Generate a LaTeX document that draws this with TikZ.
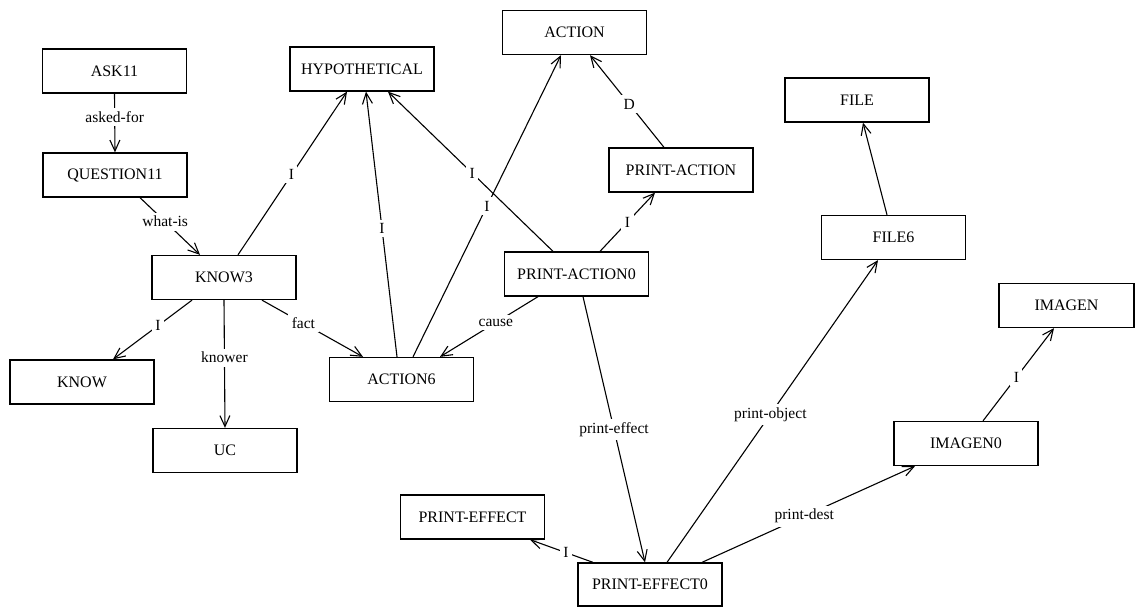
\documentclass[tikz,border=0pt]{standalone}
\usepackage{fontspec}
\setmainfont{Liberation Serif}
\usetikzlibrary{arrows.meta}
\begin{document}
\begin{tikzpicture}[x=1pt,y=-1pt,
  concept/.style={draw, line width=1.3pt, minimum width=144pt, minimum height=44pt,
    inner sep=0pt, font=\fontsize{16}{18}\selectfont},
  link/.style={line width=1.1pt,
    -{Straight Barb[length=11pt,width=10pt,line width=1.1pt]}},
  lbl/.style={fill=white, inner sep=3.5pt, font=\fontsize{15.5}{17}\selectfont}]
\useasboundingbox (0,0) rectangle (1135,607);

% concepts
\node[concept] (ask)     at (114.5,71)   {ASK11};
\node[concept] (q11)     at (115,175)    {QUESTION11};
\node[concept] (hyp)     at (362,69)     {HYPOTHETICAL};
\node[concept] (action)  at (574.5,32.5) {ACTION};
\node[concept] (paction) at (681,170)    {PRINT-ACTION};
\node[concept] (file)    at (857,100)    {FILE};
\node[concept] (file6)   at (893.5,237.5){FILE6};
\node[concept] (know3)   at (224,277.5)  {KNOW3};
\node[concept] (pa0)     at (576.5,274)  {PRINT-ACTION0};
\node[concept] (know)    at (82,382)     {KNOW};
\node[concept] (action6) at (401.5,379.5){ACTION6};
\node[concept] (uc)      at (225,450.5)  {UC};
\node[concept, minimum width=135pt] (imagen) at (1066.5,305.5) {IMAGEN};
\node[concept] (imagen0) at (966,443.5)  {IMAGEN0};
\node[concept] (peff)    at (472.5,517)  {PRINT-EFFECT};
\node[concept, minimum height=43pt] (peff0) at (650,584.5) {PRINT-EFFECT0};

% relations
\draw[link] (ask.south) -- node[lbl,pos=0.4]{asked-for} (q11.north);
\draw[link] ([xshift=25]q11.south) -- node[lbl,pos=0.42]{what-is} ([xshift=-24]know3.north);
\draw[link] ([xshift=14]know3.north) -- node[lbl,pos=0.49]{I} ([xshift=-15]hyp.south);
\draw[link] ([xshift=-4.5]action6.north) -- node[lbl,pos=0.485]{I} ([xshift=4]hyp.south);
\draw[link] ([xshift=-23.5]pa0.north) -- node[lbl,pos=0.49]{I} ([xshift=26]hyp.south);
\draw[link] ([xshift=11.5]action6.north) -- node[lbl,pos=0.5]{I} ([xshift=-13.5]action.south);
\draw[link] ([xshift=-17]paction.north) -- node[lbl,pos=0.47]{D} ([xshift=15.5]action.south);
\draw[link] ([xshift=23.5]pa0.north) -- node[lbl,pos=0.5]{I} ([xshift=-26]paction.south);
\draw[link] ([xshift=-32]know3.south) -- node[lbl,pos=0.43]{I} ([xshift=31]know.north);
\draw[link] (know3.south) -- node[lbl,pos=0.45]{knower} (uc.north);
\draw[link] ([xshift=38]know3.south) -- node[lbl,pos=0.41]{fact} ([xshift=-38.5]action6.north);
\draw[link] ([xshift=-38.5]pa0.south) -- node[lbl,pos=0.43]{cause} ([xshift=38.5]action6.north);
\draw[link] ([xshift=6.5]pa0.south) -- node[lbl,pos=0.5]{print-effect} ([xshift=-5]peff0.north);
\draw[link] ([xshift=17]peff0.north) -- node[lbl,pos=0.49]{print-object} ([xshift=-15.5]file6.south);
\draw[link] ([xshift=52]peff0.north) -- node[lbl,pos=0.48]{print-dest} ([xshift=-51]imagen0.south);
\draw[link] ([xshift=17]imagen0.north) -- node[lbl,pos=0.47]{I} ([xshift=-12.5]imagen.south);
\draw[link] ([xshift=-57]peff0.north) -- node[lbl,pos=0.43]{I} ([xshift=57.5]peff.south);
\draw[link] ([xshift=-6.5]file6.north) -- ([xshift=6]file.south);
\end{tikzpicture}
\end{document}
